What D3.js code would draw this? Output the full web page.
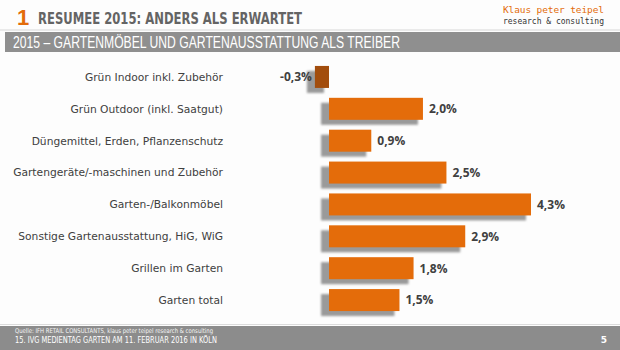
<!DOCTYPE html>
<html><head><meta charset="utf-8">
<script src="https://cdn.jsdelivr.net/npm/d3@7"></script>
<style>html,body{margin:0;padding:0;background:#fff;}svg{display:block;}</style>
</head><body>
<script>
const categories = ["Grün Indoor inkl. Zubehör","Grün Outdoor (inkl. Saatgut)","Düngemittel, Erden, Pflanzenschutz","Gartengeräte/-maschinen und Zubehör","Garten-/Balkonmöbel","Sonstige Gartenausstattung, HiG, WiG","Grillen im Garten","Garten total"];
const values = [-0.3, 2.0, 0.9, 2.5, 4.3, 2.9, 1.8, 1.5];
const valueLabels = ["-0,3%","2,0%","0,9%","2,5%","4,3%","2,9%","1,8%","1,5%"];

const W = 620, H = 350;
const svg = d3.select("body").append("svg").attr("width", W).attr("height", H);
const defs = svg.append("defs");
defs.append("filter").attr("id","blur").attr("x","-20%").attr("y","-20%").attr("width","140%").attr("height","140%")
  .append("feGaussianBlur").attr("stdDeviation", 1.2);

svg.append("rect").attr("width", W).attr("height", H).attr("fill", "#fdfdfd");

// Header
svg.append("text").attr("x", 17).attr("y", 25).attr("font-family","Liberation Sans, Arial, sans-serif")
  .attr("font-weight","bold").attr("font-size", 22).attr("fill","#e36c0a").text("1");
svg.append("text").attr("x", 38).attr("y", 24).attr("font-family","DejaVu Sans, Verdana, sans-serif")
  .attr("font-weight","bold").attr("font-size", 16).attr("fill","#646464")
  .attr("textLength", 264).attr("lengthAdjust","spacingAndGlyphs").text("RESUMEE 2015: ANDERS ALS ERWARTET");
svg.append("text").attr("x", 503).attr("y", 13).attr("font-family","DejaVu Sans Mono, monospace")
  .attr("font-size", 9.5).attr("fill","#e36c0a").attr("textLength", 101).text("Klaus peter teipel");
svg.append("text").attr("x", 503).attr("y", 24).attr("font-family","DejaVu Sans Mono, monospace")
  .attr("font-size", 8).attr("fill","#333").attr("textLength", 101).text("research & consulting");

svg.append("rect").attr("x", 0).attr("y", 29.5).attr("width", W).attr("height", 1).attr("fill", "#d8d8d8");
svg.append("rect").attr("x", 5).attr("y", 32).attr("width", W - 5).attr("height", 20).attr("fill", "#8f8f8f");
svg.append("text").attr("x", 13).attr("y", 48).attr("font-family","Liberation Sans Narrow, Liberation Sans, Arial, sans-serif")
  .attr("font-size", 16).attr("fill","#ffffff")
  .attr("textLength", 387).attr("lengthAdjust","spacingAndGlyphs")
  .text("2015 – GARTENMÖBEL UND GARTENAUSSTATTUNG ALS TREIBER");

// Chart
const y = d3.scaleBand().domain(categories).range([61, 316]).paddingInner(0.31).paddingOuter(0.155);
const x = d3.scaleLinear().domain([0, 4.3]).range([329, 531]);

const rows = svg.append("g").selectAll("g").data(values).join("g");

rows.append("rect")
  .attr("x", d => Math.min(x(d), x(0)) - 8)
  .attr("y", (d, i) => y(categories[i]) + 5)
  .attr("width", d => Math.abs(x(d) - x(0)) + 3)
  .attr("height", y.bandwidth())
  .attr("fill", "#9a9a9a").attr("filter", "url(#blur)");

rows.append("rect")
  .attr("x", d => Math.min(x(d), x(0)))
  .attr("y", (d, i) => y(categories[i]))
  .attr("width", d => Math.abs(x(d) - x(0)))
  .attr("height", y.bandwidth())
  .attr("fill", d => d < 0 ? "#a24d0d" : "#e46c0a");

rows.append("text")
  .attr("x", d => d < 0 ? x(d) - 3 : x(d) + 6)
  .attr("y", (d, i) => y(categories[i]) + y.bandwidth() / 2)
  .attr("dy", "0.36em")
  .attr("text-anchor", d => d < 0 ? "end" : "start")
  .attr("font-family", "Open Sans, Liberation Sans, sans-serif")
  .attr("font-weight", "bold").attr("font-size", 12).attr("fill", "#404040")
  .text((d, i) => valueLabels[i]);

const yAxis = d3.axisLeft(y).tickSize(0).tickPadding(0);
const ag = svg.append("g").attr("transform", "translate(223,0)").call(yAxis);
ag.select(".domain").remove();
ag.selectAll("text").attr("font-family", "DejaVu Sans, Verdana, sans-serif").attr("font-size", 10.7)
  .attr("fill", "#404040").attr("dy", "0.36em");

// Footer
svg.append("rect").attr("x", 0).attr("y", 324).attr("width", W).attr("height", 1).attr("fill", "#dcdcdc");
svg.append("rect").attr("x", 0).attr("y", 326).attr("width", W).attr("height", 24).attr("fill", "#8c8c8c");
svg.append("text").attr("x", 15).attr("y", 332.5).attr("font-family","DejaVu Sans, Verdana, sans-serif")
  .attr("font-size", 6.5).attr("fill","#f4f4f4").attr("textLength", 198).attr("lengthAdjust","spacingAndGlyphs")
  .text("Quelle: IFH RETAIL CONSULTANTS, klaus peter teipel research & consulting");
svg.append("text").attr("x", 15).attr("y", 342.5).attr("font-family","DejaVu Sans, Verdana, sans-serif")
  .attr("font-size", 9).attr("fill","#ffffff").attr("textLength", 202).attr("lengthAdjust","spacingAndGlyphs")
  .text("15. IVG MEDIENTAG GARTEN AM 11. FEBRUAR 2016 IN KÖLN");
svg.append("text").attr("x", 607).attr("y", 343).attr("text-anchor","end").attr("font-family","DejaVu Sans, Verdana, sans-serif")
  .attr("font-weight","bold").attr("font-size", 9).attr("fill","#ffffff").text("5");
</script>
</body></html>
